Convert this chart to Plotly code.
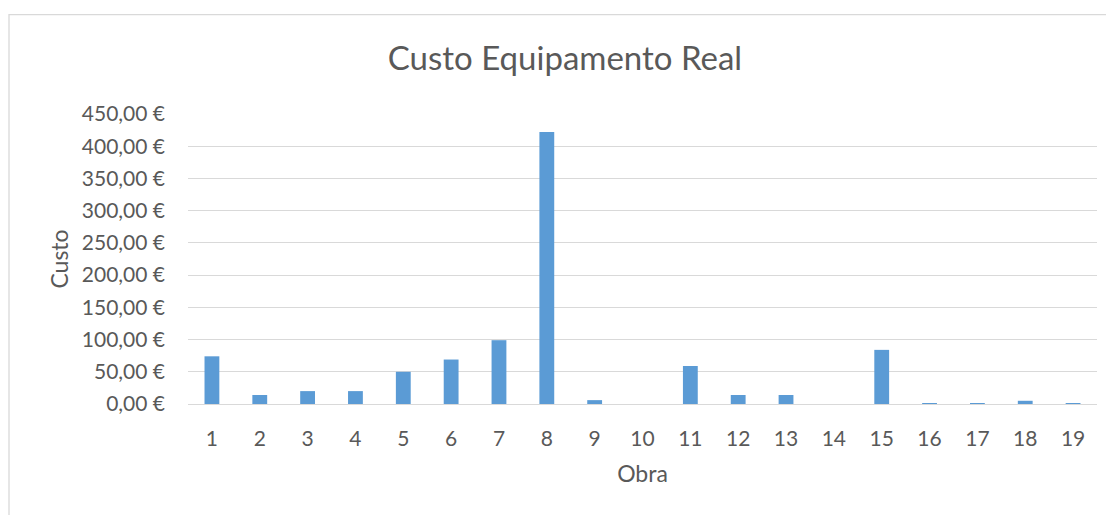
import plotly.graph_objects as go

obras = [str(i) for i in range(1, 20)]
custo = [74, 14, 20, 20, 50, 69, 99, 422, 6, 0, 59, 14, 14, 0, 84, 1.5, 1, 5, 0.5]
ticks_y = [0, 50, 100, 150, 200, 250, 300, 350, 400, 450]
ticks_y_txt = [f"{v:.2f}".replace(".", ",") + " €" for v in ticks_y]

cinza = "#595959"
fonte = "Lato, 'Open Sans', sans-serif"

# a página tem 8px de margem no body; compensar
OFF = 8
W, H = 1114 - OFF, 515 - OFF
L, R, T, B = 188 - OFF, 1097 - OFF, 113.5 - OFF, 404 - OFF
w, h = R - L, B - T

fig = go.Figure()
fig.add_trace(go.Bar(
    x=obras,
    y=custo,
    width=0.31,
    marker=dict(color="#5B9BD5", line=dict(width=0)),
))

# moldura do gráfico (estilo Excel)
fig.add_shape(type="rect", xref="paper", yref="paper",
              x0=(1 - L) / w, x1=(1130 - L) / w,
              y0=(B - 530) / h, y1=(B - (14 - OFF)) / h,
              line=dict(color="#D9D9D9", width=1.3), layer="below")

fig.update_layout(
    width=W, height=H,
    margin=dict(l=L, r=W - R, t=T, b=H - B),
    plot_bgcolor="white", paper_bgcolor="white",
    showlegend=False,
    font=dict(family=fonte, color=cinza, size=21),
    title=dict(text="Custo Equipamento Real", xref="container",
               x=(565 - OFF) / W, xanchor="center",
               yref="container", y=1 - (58 - OFF) / H, yanchor="middle",
               font=dict(size=33, color=cinza, family=fonte)),
    xaxis=dict(
        showgrid=False, showline=True, linecolor="#D9D9D9", linewidth=1.3,
        ticks="", ticklabelstandoff=16,
        tickfont=dict(size=21, color=cinza),
        title=dict(text="Obra", standoff=16, font=dict(size=23, color=cinza)),
    ),
    yaxis=dict(
        range=[0, 450], tickvals=ticks_y, ticktext=ticks_y_txt,
        showgrid=True, gridcolor="#D9D9D9", gridwidth=1.3,
        zeroline=False, ticks="", ticklabelstandoff=22,
        tickfont=dict(size=21, color=cinza),
        title=dict(text="Custo", standoff=6, font=dict(size=23, color=cinza)),
    ),
)

fig.write_html("out.html")
